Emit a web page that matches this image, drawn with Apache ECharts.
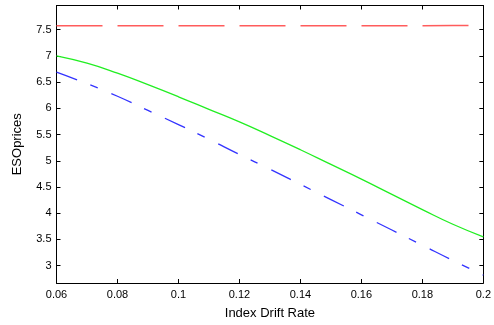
<!DOCTYPE html>
<html><head><meta charset="utf-8">
<script src="https://cdn.jsdelivr.net/npm/echarts@6/dist/echarts.min.js"></script>
<style>html,body{margin:0;padding:0;background:#fff}#c{width:494px;height:325px}</style>
</head><body><div id="c"></div>
<script>
var xValues = [0.06,0.07,0.08,0.09,0.10,0.11,0.12,0.13,0.14,0.15,0.16,0.17,0.18,0.19,0.20];
var redValues = [7.575,7.575,7.575,7.575,7.575,7.575,7.575,7.575,7.575,7.575,7.575,7.575,7.575,7.578,7.58];
var greenValues = [7.00,6.86,6.67,6.45,6.22,5.98,5.74,5.48,5.21,4.93,4.65,4.36,4.07,3.79,3.55];
var blueValues = [6.69,6.47,6.23,5.96,5.69,5.41,5.12,4.84,4.55,4.26,3.97,3.68,3.39,3.10,2.82];
var yTicks = [3,3.5,4,4.5,5,5.5,6,6.5,7,7.5];
var xTicks = [0.06,0.08,0.1,0.12,0.14,0.16,0.18,0.2];

function pairs(v){ return xValues.map(function(x,i){return [x,v[i]];}); }
var font = 'Liberation Sans, Arial, sans-serif';
var chart = echarts.init(document.getElementById('c'));
var axisLine = {show:true, lineStyle:{color:'#000', width:1}};
var tick = {show:true, inside:true, length:4, lineStyle:{color:'#000'}};
chart.setOption({
  animation:false,
  backgroundColor:'#fff',
  grid:{left:56.5, top:5.5, right:10.5, bottom:38.5, containLabel:false},
  xAxis:[{
    type:'value', min:0.06, max:0.2, position:'bottom',
    axisLine:axisLine,
    axisTick:Object.assign({customValues:xTicks}, tick),
    axisLabel:{customValues:xTicks, color:'#000', fontFamily:font, fontSize:11, margin:6,
      formatter:function(v){return String(Math.round(v*100)/100);}},
    splitLine:{show:false},
    name:'Index Drift Rate', nameLocation:'middle', nameGap:24,
    nameTextStyle:{color:'#000', fontFamily:font, fontSize:13}
  },{
    type:'value', min:0.06, max:0.2, position:'top',
    axisLine:axisLine,
    axisTick:Object.assign({customValues:xTicks}, tick),
    axisLabel:{show:false}, splitLine:{show:false}
  }],
  yAxis:[{
    type:'value', min:2.67, max:7.96, position:'left',
    axisLine:axisLine,
    axisTick:Object.assign({customValues:yTicks}, tick),
    axisLabel:{customValues:yTicks, color:'#000', fontFamily:font, fontSize:11, margin:5},
    splitLine:{show:false},
    name:'ESOprices', nameLocation:'middle', nameGap:33, nameRotate:90,
    nameTextStyle:{color:'#000', fontFamily:font, fontSize:13}
  },{
    type:'value', min:2.67, max:7.96, position:'right',
    axisLine:axisLine,
    axisTick:Object.assign({customValues:yTicks}, tick),
    axisLabel:{show:false}, splitLine:{show:false}
  }],
  series:[
    {type:'line', data:pairs(redValues), showSymbol:false, smooth:false,
     lineStyle:{color:'#ff5c5c', width:1.5, type:[46,15]}},
    {type:'line', data:pairs(greenValues), showSymbol:false, smooth:true,
     lineStyle:{color:'#22ee22', width:1.3}},
    {type:'line', data:pairs(blueValues), showSymbol:false, smooth:true,
     lineStyle:{color:'#3333ff', width:1.3, type:[22,14,8,15]}}
  ]
});
</script></body></html>
